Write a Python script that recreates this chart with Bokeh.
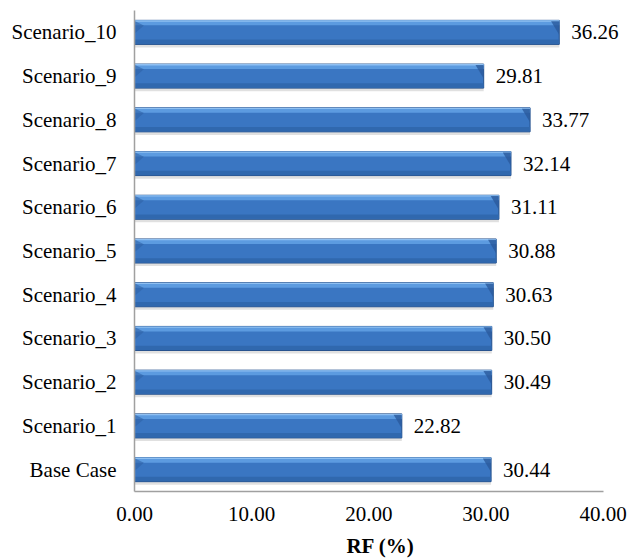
from bokeh.plotting import figure
from bokeh.models import Range1d, FixedTicker, PrintfTickFormatter, ColumnDataSource
from bokeh.embed import file_html
from bokeh.resources import INLINE
from bokeh.core.properties import value

categories = ["Base Case", "Scenario_1", "Scenario_2", "Scenario_3", "Scenario_4",
              "Scenario_5", "Scenario_6", "Scenario_7", "Scenario_8", "Scenario_9", "Scenario_10"]
rf_values = [30.44, 22.82, 30.49, 30.50, 30.63, 30.88, 31.11, 32.14, 33.77, 29.81, 36.26]
x_ticks = [0, 10, 20, 30, 40]
x_title = "RF (%)"

FONT = "serif"
H = 0.55

ys = list(range(len(categories)))
labels = ["%.2f" % v for v in rf_values]
src = ColumnDataSource(dict(
    y=ys, v=rf_values, label=labels,
    y_shadow=[y - 0.07 for y in ys],
    y_top=[y + H / 2 - 0.06 for y in ys],
    y_topline=[y + H / 2 - 0.015 for y in ys],
    y_bot=[y - H / 2 + 0.06 for y in ys],
))

p = figure(width=628, height=560, output_backend="svg", toolbar_location=None,
           x_range=Range1d(0, 42), y_range=Range1d(-0.5, len(categories) - 0.5),
           min_border_left=134, min_border_right=2, min_border_top=10, min_border_bottom=68)
p.outline_line_color = None
p.grid.visible = False

# shadow
p.hbar(y="y_shadow", left=0, right="v", height=H, source=src,
       fill_color="#000000", fill_alpha=0.12, line_color=None)
# main bar
p.hbar(y="y", left=0, right="v", height=H, source=src,
       fill_color="#3a76c2", line_color="#24508c", line_width=1)
# top highlight band
p.hbar(y="y_top", left=0.05, right="v", height=0.11, source=src,
       fill_color="#5c9be0", line_color=None)
p.hbar(y="y_topline", left=0.05, right="v", height=0.03, source=src,
       fill_color="#8fc0f2", line_color=None)
# bottom darker band
p.hbar(y="y_bot", left=0.05, right="v", height=0.1, source=src,
       fill_color="#3068ae", line_color=None)

# bevels at bar ends
left_xs = [[0.05, 0.05, 0.8] for _ in ys]
left_ys = [[y + H / 2 - 0.02, y - 0.02, y + H / 2 - 0.12] for y in ys]
p.patches(left_xs, left_ys, fill_color="#2e62a6", fill_alpha=0.6, line_color=None)
right_xs = [[v - 0.7, v - 0.02, v - 0.02] for v in rf_values]
right_ys = [[y + H / 2 - 0.02, y + H / 2 - 0.02, y - 0.05] for y in ys]
p.patches(right_xs, right_ys, fill_color="#2a5a9c", fill_alpha=0.8, line_color=None)

# value labels
p.text(x=rf_values, y=ys, text=labels, x_offset=12,
       text_font=value(FONT), text_font_size="21px", text_baseline="middle",
       text_align="left", text_color="#000000")

# axes
p.xaxis.ticker = FixedTicker(ticks=x_ticks)
p.xaxis.formatter = PrintfTickFormatter(format="%.2f")
p.xaxis.bounds = (0, 40)
p.xaxis.axis_label = x_title
p.xaxis.axis_label_text_font = FONT
p.xaxis.axis_label_text_font_style = "bold"
p.xaxis.axis_label_text_font_size = "21px"
p.xaxis.axis_label_standoff = 10
p.xaxis.major_label_standoff = 15

p.yaxis.ticker = FixedTicker(ticks=ys)
p.yaxis.major_label_overrides = {y: c for y, c in zip(ys, categories)}
p.yaxis.major_label_standoff = 18

for ax in (p.xaxis, p.yaxis):
    ax.axis_line_color = "#a0a0a0"
    ax.axis_line_width = 1.5
    ax.major_tick_in = 0
    ax.major_tick_out = 0
    ax.minor_tick_in = 0
    ax.minor_tick_out = 0
    ax.major_label_text_font = FONT
    ax.major_label_text_font_size = "21px"
    ax.major_label_text_color = "#000000"
    ax.axis_label_text_color = "#000000"

open("out.html", "w").write(file_html(p, INLINE))
